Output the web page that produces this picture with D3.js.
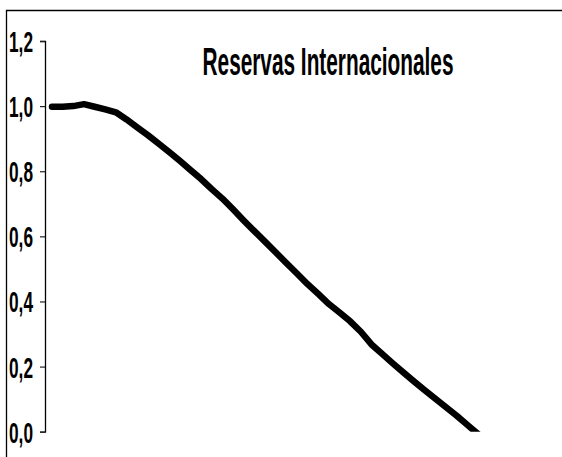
<!DOCTYPE html>
<html>
<head>
<meta charset="utf-8">
<script src="https://cdn.jsdelivr.net/npm/d3@7"></script>
<style>
  html, body { margin: 0; padding: 0; background: #fff; }
  svg { display: block; }
  text { font-family: "Liberation Sans Narrow", "Arial Narrow", "Liberation Sans", Arial, sans-serif; font-weight: bold; fill: #000; }
</style>
</head>
<body>
<svg id="chart" width="562" height="457"></svg>
<script>
// Reservas internacionales (índice, periodo inicial = 1,0)
const periods = d3.range(1, 42);
const reservas = [
  0.998, 0.998, 1.000, 1.006, 0.998, 0.990, 0.981, 0.959, 0.935, 0.911,
  0.885, 0.859, 0.832, 0.804, 0.776, 0.745, 0.716, 0.683, 0.649, 0.616,
  0.584, 0.551, 0.518, 0.486, 0.453, 0.423, 0.392, 0.366, 0.339, 0.307,
  0.268, 0.239, 0.210, 0.182, 0.154, 0.127, 0.101, 0.075, 0.049, 0.021,
  -0.007
];
const yTicks = [0, 0.2, 0.4, 0.6, 0.8, 1.0, 1.2];
const yTickLabels = ["0,0", "0,2", "0,4", "0,6", "0,8", "1,0", "1,2"];
const title = "Reservas Internacionales";

const W = 562, H = 457;
const plot = { left: 45, top: 41, bottom: 431.7 };
const svg = d3.select("#chart");

// squeeze a text horizontally to a target width around its anchor point
function condense(sel, targetWidth) {
  sel.each(function () {
    const t = d3.select(this);
    const w = this.getComputedTextLength();
    if (!w) return;
    const k = Math.min(1, targetWidth / w);
    const ax = +t.attr("x") || 0;
    t.attr("transform", `translate(${ax},0) scale(${k},1) translate(${-ax},0)`);
  });
}

// outer frame (left and top edges)
svg.append("path")
  .attr("d", `M6.5,${H} V10.5 H${W}`)
  .attr("fill", "none")
  .attr("stroke", "#000")
  .attr("stroke-width", 1.3);

const x = d3.scalePoint().domain(periods).range([52, 478]);
const y = d3.scaleLinear().domain([0, 1.2]).range([plot.bottom, plot.top]);

// y axis
const yAxis = d3.axisLeft(y)
  .tickValues(yTicks)
  .tickFormat((d, i) => yTickLabels[i])
  .tickSize(5)
  .tickPadding(7);

const gy = svg.append("g")
  .attr("transform", `translate(${plot.left},0)`)
  .call(yAxis);
gy.attr("font-family", null).attr("font-size", null);
gy.select(".domain").attr("stroke", "#000").attr("stroke-width", 1.3);
gy.selectAll(".tick line").attr("stroke", "#222").attr("stroke-width", 1.2);
gy.selectAll(".tick text")
  .attr("font-size", 30)
  .attr("dy", "0.35em")
  .style("fill", "#000")
  .call(condense, 24);

// clip to plot area
svg.append("clipPath").attr("id", "plotClip")
  .append("rect")
  .attr("x", plot.left + 1).attr("y", 0)
  .attr("width", W - plot.left).attr("height", plot.bottom);

const line = d3.line()
  .x((d, i) => x(periods[i]))
  .y(d => y(d))
  .curve(d3.curveLinear);

svg.append("path")
  .datum(reservas)
  .attr("clip-path", "url(#plotClip)")
  .attr("d", line)
  .attr("fill", "none")
  .attr("stroke", "#000")
  .attr("stroke-width", 6.5)
  .attr("stroke-linejoin", "round")
  .attr("stroke-linecap", "round");

// title
svg.append("text")
  .attr("x", 328)
  .attr("y", 75)
  .attr("text-anchor", "middle")
  .attr("font-size", 38)
  .text(title)
  .call(condense, 251);
</script>
</body>
</html>
